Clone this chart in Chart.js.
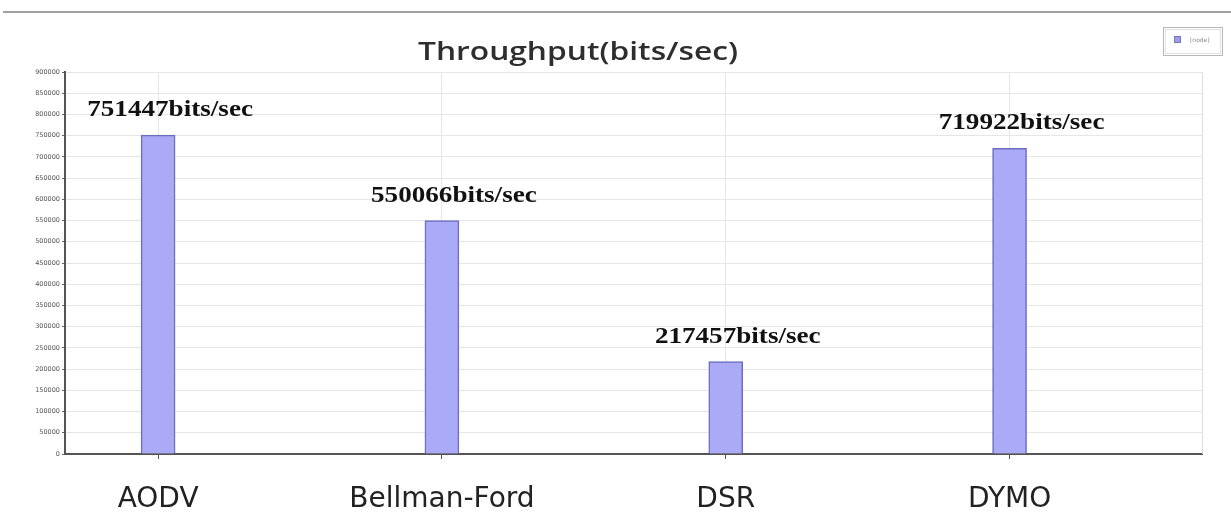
<!DOCTYPE html>
<html><head><meta charset="utf-8">
<script src="https://cdn.jsdelivr.net/npm/chart.js@4.4.1/dist/chart.umd.min.js"></script>
<style>html,body{margin:0;padding:0;background:#fff;overflow:hidden}#wrap{width:1231px;height:517px;position:relative}</style>
</head><body><div id="wrap"><canvas id="c" width="1231" height="517"></canvas></div>
<script>
const categories = ['AODV', 'Bellman-Ford', 'DSR', 'DYMO'];
const throughput = [751447, 550066, 217457, 719922];
const valueLabels = ['751447bits/sec', '550066bits/sec', '217457bits/sec', '719922bits/sec'];
const yTicks = [0, 50000, 100000, 150000, 200000, 250000, 300000, 350000, 400000, 450000,
                500000, 550000, 600000, 650000, 700000, 750000, 800000, 850000, 900000];
const chartTitle = 'Throughput(bits/sec)';
const legendText = '[node]';

function stretchedText(ctx, text, cx, baseY, font, sx, color) {
  ctx.save();
  ctx.font = font; ctx.fillStyle = color; ctx.textAlign = 'center'; ctx.textBaseline = 'alphabetic';
  ctx.translate(cx, baseY); ctx.scale(sx, 1); ctx.fillText(text, 0, 0);
  ctx.restore();
}

const framePlugin = {
  id: 'frame',
  beforeDraw(chart) {
    const ctx = chart.ctx;
    ctx.save();
    ctx.fillStyle = '#fff'; ctx.fillRect(0, 0, chart.width, chart.height);
    ctx.strokeStyle = '#a0a0a0'; ctx.lineWidth = 2;
    ctx.beginPath(); ctx.moveTo(3, 12); ctx.lineTo(chart.width, 12); ctx.stroke();
    ctx.restore();
  },
  afterDatasetsDraw(chart) {
    const ctx = chart.ctx;
    const a = chart.chartArea;
    ctx.save();
    ctx.strokeStyle = '#dcdcdc'; ctx.lineWidth = 1;
    ctx.beginPath(); ctx.moveTo(a.right + 0.5, a.top); ctx.lineTo(a.right + 0.5, a.bottom); ctx.stroke();
    ctx.restore();
    // value labels
    const meta = chart.getDatasetMeta(0);
    meta.data.forEach((bar, i) => {
      stretchedText(ctx, valueLabels[i], bar.x + 12, bar.y - 19, 'bold 24px "Liberation Serif"', 1.13, '#111');
    });
    // title
    const titleFont = '600 25px "Open Sans"';
    ctx.save();
    ctx.font = titleFont;
    const w = ctx.measureText(chartTitle).width;
    ctx.restore();
    stretchedText(ctx, chartTitle, 578, 60, titleFont, 320 / w, '#2e2e2e');
    // legend box
    ctx.save();
    ctx.strokeStyle = '#b8b8b8'; ctx.lineWidth = 1;
    ctx.strokeRect(1163.5, 27.5, 59, 28);
    ctx.strokeStyle = '#e2e2e2';
    ctx.strokeRect(1165.5, 29.5, 55, 24);
    ctx.fillStyle = '#9c9ce6'; ctx.fillRect(1174, 36, 7, 7);
    ctx.strokeStyle = '#7777bb'; ctx.strokeRect(1174.5, 36.5, 6, 6);
    ctx.fillStyle = '#888'; ctx.font = '6px "DejaVu Sans"'; ctx.textBaseline = 'middle'; ctx.textAlign = 'left';
    ctx.fillText(legendText, 1190, 40);
    ctx.restore();
  }
};

new Chart(document.getElementById('c').getContext('2d'), {
  type: 'bar',
  data: {
    datasets: [{
      label: legendText,
      data: throughput.map((v, i) => ({ x: i, y: v })),
      backgroundColor: '#aaaaf7',
      borderColor: '#6c6cc0',
      borderWidth: 1.5,
      barThickness: 34
    }]
  },
  options: {
    responsive: false,
    animation: false,
    layout: { padding: { left: 0, top: 72, right: 29, bottom: 0 } },
    plugins: { legend: { display: false }, tooltip: { enabled: false }, title: { display: false } },
    scales: {
      x: {
        type: 'linear', min: -0.328, max: 3.678, offset: false,
        afterBuildTicks: s => { s.ticks = categories.map((c, i) => ({ value: i })); },
        ticks: {
          callback: v => categories[v] ?? '',
          font: { family: 'DejaVu Sans', size: 28 }, color: '#222', padding: 24,
          maxRotation: 0, autoSkip: false
        },
        grid: { offset: false, color: '#e6e6e6', lineWidth: 1, tickLength: 5, tickColor: '#555' },
        border: { color: '#555', width: 2 },
        afterFit: s => { s.height = 63; }
      },
      y: {
        min: 0, max: 900000,
        afterBuildTicks: s => { s.ticks = yTicks.map(v => ({ value: v })); },
        ticks: { callback: v => String(v), font: { family: 'DejaVu Sans', size: 6.5 }, color: '#555', padding: 2, autoSkip: false },
        grid: { color: '#e6e6e6', tickLength: 3, tickColor: '#666' },
        border: { color: '#555', width: 2 },
        afterFit: s => { s.width = 65; }
      }
    }
  },
  plugins: [framePlugin]
});
</script>
</body></html>
